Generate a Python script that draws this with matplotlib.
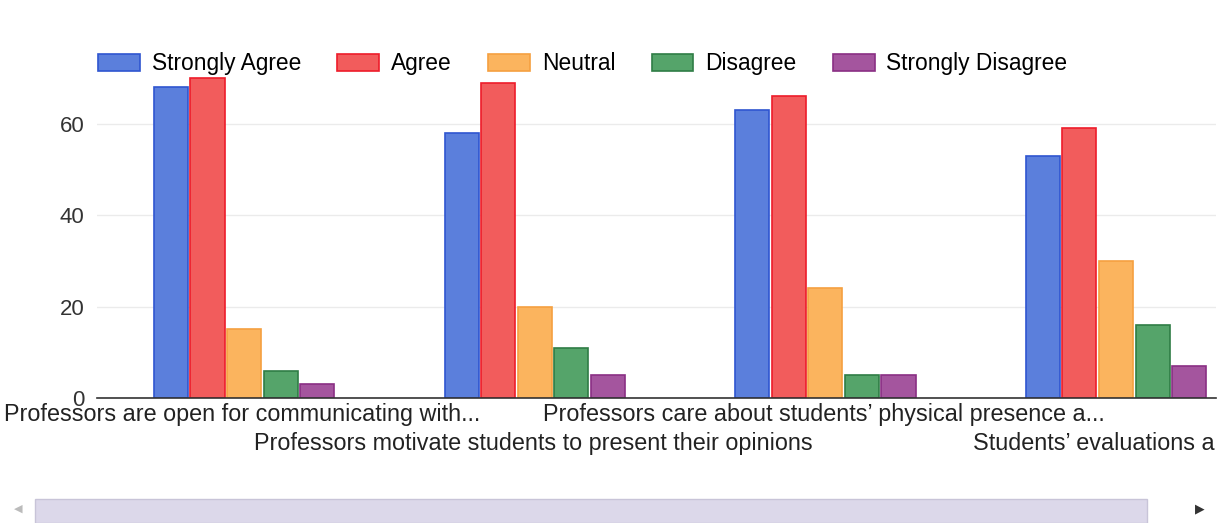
import matplotlib
matplotlib.use('Agg')
import matplotlib.pyplot as plt
import numpy as np
from matplotlib.patches import Rectangle
from matplotlib.transforms import Bbox

plt.rcParams['font.family'] = ['Liberation Sans', 'DejaVu Sans']

# data
categories = ['Professors are open for communicating with...',
              'Professors motivate students to present their opinions',
              'Professors care about students\u2019 physical presence a...',
              'Students\u2019 evaluations are...']
series = ['Strongly Agree', 'Agree', 'Neutral', 'Disagree', 'Strongly Disagree']
strongly_agree = [68, 58, 63, 53]
agree = [70, 69, 66, 59]
neutral = [15, 20, 24, 30]
disagree = [6, 11, 5, 16]
strongly_disagree = [3, 5, 5, 7]
values = [strongly_agree, agree, neutral, disagree, strongly_disagree]

fills = ['#5b7fdc', '#f25c5c', '#fbb45e', '#55a46a', '#a4559e']
edges = ['#2f55d0', '#ee1c2a', '#f5a040', '#2f7d45', '#8a2f84']

W, H = 1226, 523
fig = plt.figure(figsize=(W / 100, H / 100), dpi=100)
ax = fig.add_axes([97 / W, 1 - 398 / H, (1216 - 97) / W, (398 - 69) / H])

x = np.arange(len(categories))
step = 36.5 / 290
width = 34 / 290
for i, (name, vals) in enumerate(zip(series, values)):
    ax.bar(x + (i - 2) * step + 0.006, vals, width, color=fills[i], edgecolor=edges[i],
           linewidth=1.2, label=name, zorder=3)

ax.set_xlim(-0.5, 3.35)
ax.set_ylim(0, 72)
ax.set_yticks([0, 20, 40, 60])
ax.tick_params(axis='y', length=0, pad=9, labelsize=16, labelcolor='#333333')
ax.set_xticks([])
ax.grid(axis='y', color='#ebebeb', linewidth=1, zorder=0)
for s in ['top', 'right', 'left']:
    ax.spines[s].set_visible(False)
ax.spines['bottom'].set_color('#333333')
ax.spines['bottom'].set_linewidth(1.2)
ax.spines['bottom'].set_zorder(4)

# category labels in two staggered rows, clipped at the right edge
clip = Bbox([[0, 0], [1216, H]])
for i, lab in enumerate(categories):
    y = -0.05 if i % 2 == 0 else -0.137
    t = ax.text(x[i], y, lab, transform=ax.get_xaxis_transform(), ha='center',
                va='center', fontsize=16.8, color='#222222')
    t.set_clip_box(clip)
    t.set_clip_on(True)

fig.legend(loc='upper left', bbox_to_anchor=(89 / W, 1 - 43 / H), ncol=5,
           frameon=False, fontsize=16.4, handlelength=1.83, handleheight=0.75,
           handletextpad=0.52, columnspacing=1.6, borderaxespad=0)

# scrollbar at the bottom
fig.patches.append(Rectangle((35 / W, 0), (1147 - 35) / W, 24 / H,
                             transform=fig.transFigure, facecolor='#dcd8ea',
                             edgecolor='#c8c4d8', linewidth=1))
fig.text(18 / W, 1 - 509 / H, '\u25c0', fontsize=8, color='#bbbbbb',
         ha='center', va='center', family='DejaVu Sans')
fig.text(1200 / W, 1 - 509 / H, '\u25b6', fontsize=9, color='#333333',
         ha='center', va='center', family='DejaVu Sans')

fig.savefig('out.png', dpi=100)
